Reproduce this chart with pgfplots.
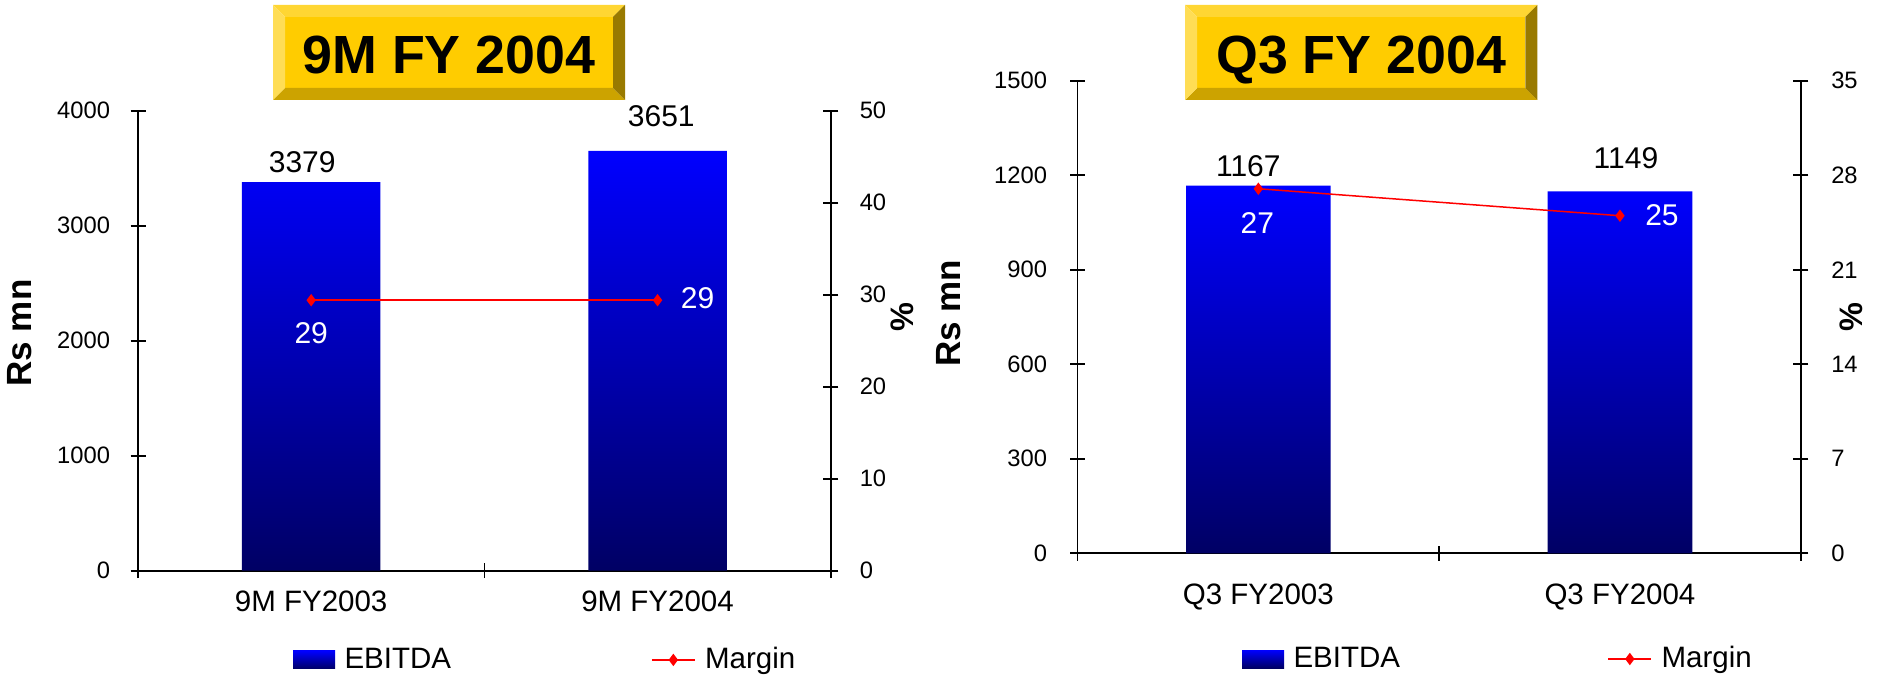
\documentclass[border=0pt]{standalone}
\usepackage{fontspec}
\setmainfont{Liberation Sans}
\usepackage{pgfplots}
\pgfplotsset{compat=1.18}
\definecolor{barTop}{RGB}{0,0,255}
\definecolor{barBot}{RGB}{0,0,100}
\definecolor{gFace}{RGB}{255,204,0}
\definecolor{gTop}{RGB}{255,214,51}
\definecolor{gLeft}{RGB}{255,221,85}
\definecolor{gBot}{RGB}{204,163,0}
\definecolor{gRight}{RGB}{153,122,0}
\newcommand{\fs}[1]{\fontsize{#1}{#1}\selectfont}
\newcommand{\bevelbox}[2]{%
  \pgfmathsetmacro{\bxi}{#1+4.8}\pgfmathsetmacro{\bxo}{#2-4.8}%
  \fill[gFace] (\bxi pt,234.8pt) rectangle (\bxo pt,263.2pt);
  \fill[gTop] (#1pt,268pt) -- (#2pt,268pt) -- (\bxo pt,263.2pt) -- (\bxi pt,263.2pt) -- cycle;
  \fill[gBot] (#1pt,230pt) -- (#2pt,230pt) -- (\bxo pt,234.8pt) -- (\bxi pt,234.8pt) -- cycle;
  \fill[gLeft] (#1pt,230pt) -- (#1pt,268pt) -- (\bxi pt,263.2pt) -- (\bxi pt,234.8pt) -- cycle;
  \fill[gRight] (#2pt,230pt) -- (#2pt,268pt) -- (\bxo pt,263.2pt) -- (\bxo pt,234.8pt) -- cycle;
}
\pgfplotsset{
  common/.style={
    scale only axis, anchor=south west, clip=false,
    xmin=-0.5, xmax=1.5, ymin=0,
    axis line style={black, line width=0.65pt},
    tick style={black, line width=0.65pt},
    tick align=center, major tick length=6pt, minor tick length=6pt,
    /pgf/number format/assume math mode=true,
    /pgf/number format/1000 sep={},
    ticklabel style={font={\fs{9.5}}},
  },
  barstyle/.style={ybar, bar width=0.4, bar shift=0pt, draw=none, top color=barTop, bottom color=barBot,
    legend image code/.code={\path[draw=none, top color=barTop, bottom color=barBot] (0pt,-3.6pt) rectangle (16.8pt,3.6pt);}},
  marginstyle/.style={red, line width=0.6pt, mark=diamond*, mark size=2pt, mark options={solid, fill=red},
    legend image code/.code={\draw[mark repeat=2, mark phase=2, ##1] plot coordinates {(0pt,0pt) (8.6pt,0pt) (17.2pt,0pt)};}},
}
\begin{document}
\begin{tikzpicture}
\useasboundingbox (0pt,0pt) rectangle (751.2pt,270pt);
\bevelbox{109.2}{250}
\bevelbox{474}{614.9}
\node[anchor=base, font={\fs{21.5}\bfseries}] at (179.6pt,240.6pt) {9M FY 2004};
\node[anchor=base, font={\fs{21.5}\bfseries}] at (544.45pt,240.6pt) {Q3 FY 2004};

% ---------- left chart ----------
\begin{axis}[common, at={(55.2pt,41.72pt)}, width=277.1pt, height=184pt, ymax=4000,
  axis x line*=bottom, axis y line*=left,
  xtick={0,1}, xticklabels={9M FY2003,9M FY2004},
  major x tick style={draw=none}, minor xtick={-0.5,0.5,1.5},
  ytick={0,1000,...,4000},
  xticklabel style={font={\fs{11.8}}, inner sep=0pt, anchor=north, yshift=-5pt},
  yticklabel style={inner sep=0pt, anchor=east, xshift=-8pt},
  ylabel={Rs mn},
  ylabel style={at={(axis description cs:-0.1703,0.5167)}, anchor=center, font={\fs{14}\bfseries}},
  legend style={at={(0.2238,-0.194)}, anchor=west, draw=none, fill=none, inner sep=0pt, outer sep=0pt,
    font={\fs{11.8}}, nodes={inner sep=0pt},
    /tikz/every odd column/.append style={column sep=3.8pt},
    /tikz/every even column/.append style={column sep=80pt}},
  legend columns=2, legend cell align=left]
\addplot[barstyle] coordinates {(0,3379) (1,3651)};
\addlegendentry{EBITDA}
\addlegendimage{marginstyle}
\addlegendentry{Margin}
\node[font={\fs{12}}, xshift=-3.6pt, yshift=7.9pt] at (axis cs:0,3379) {3379};
\node[font={\fs{12}}, xshift=1.5pt, yshift=13.9pt] at (axis cs:1,3651) {3651};
\end{axis}
\begin{axis}[common, at={(55.2pt,41.72pt)}, width=277.1pt, height=184pt, ymax=50,
  axis y line*=right, axis x line=none,
  ytick={0,10,...,50},
  yticklabel style={inner sep=0pt, anchor=west, xshift=8.4pt},
  ylabel={\%},
  ylabel style={at={(axis description cs:1.1029,0.552)}, anchor=center, font={\fs{13}\bfseries}}]
\addplot[marginstyle] coordinates {(0,29.4) (1,29.4)};
\node[white, font={\fs{12}}, yshift=-13.2pt] at (axis cs:0,29.4) {29};
\node[white, font={\fs{12}}, xshift=16pt, yshift=0.8pt] at (axis cs:1,29.4) {29};
\end{axis}

% ---------- right chart ----------
\begin{axis}[common, at={(431pt,48.68pt)}, width=289.3pt, height=189.04pt, ymax=1500,
  axis x line*=bottom, axis y line*=left,
  xtick={0,1}, xticklabels={Q3 FY2003,Q3 FY2004},
  major x tick style={draw=none}, minor xtick={-0.5,0.5,1.5},
  ytick={0,300,...,1500},
  xticklabel style={font={\fs{11.8}}, inner sep=0pt, anchor=north, yshift=-9pt},
  yticklabel style={inner sep=0pt, anchor=east, xshift=-9pt},
  ylabel={Rs mn},
  ylabel style={at={(axis description cs:-0.1777,0.5074)}, anchor=center, font={\fs{14}\bfseries}},
  legend style={at={(0.2275,-0.2237)}, anchor=west, draw=none, fill=none, inner sep=0pt, outer sep=0pt,
    font={\fs{11.8}}, nodes={inner sep=0pt},
    /tikz/every odd column/.append style={column sep=3.8pt},
    /tikz/every even column/.append style={column sep=83pt}},
  legend columns=2, legend cell align=left]
\addplot[barstyle] coordinates {(0,1167) (1,1149)};
\addlegendentry{EBITDA}
\addlegendimage{marginstyle}
\addlegendentry{Margin}
\node[font={\fs{12}}, xshift=-4pt, yshift=7.6pt] at (axis cs:0,1167) {1167};
\node[font={\fs{12}}, xshift=2.4pt, yshift=13.3pt] at (axis cs:1,1149) {1149};
\end{axis}
\begin{axis}[common, at={(431pt,48.68pt)}, width=289.3pt, height=189.04pt, ymax=35,
  axis y line*=right, axis x line=none,
  ytick={0,7,...,35},
  yticklabel style={inner sep=0pt, anchor=west, xshift=9pt},
  ylabel={\%},
  ylabel style={at={(axis description cs:1.07,0.5)}, anchor=center, font={\fs{13}\bfseries}}]
\addplot[marginstyle] coordinates {(0,27) (1,25)};
\node[white, font={\fs{12}}, xshift=-0.4pt, yshift=-13.6pt] at (axis cs:0,27) {27};
\node[white, font={\fs{12}}, xshift=16.8pt, yshift=0.4pt] at (axis cs:1,25) {25};
\end{axis}
\end{tikzpicture}
\end{document}
